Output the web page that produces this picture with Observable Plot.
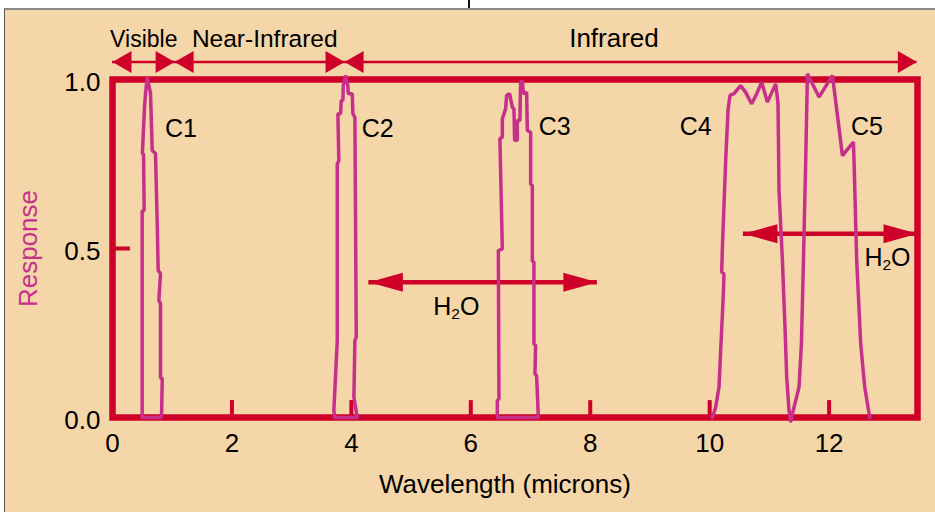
<!DOCTYPE html>
<html>
<head>
<meta charset="utf-8">
<script src="https://cdn.jsdelivr.net/npm/d3@7"></script>
<script src="https://cdn.jsdelivr.net/npm/@observablehq/plot@0.6"></script>
<style>
  html, body { margin: 0; padding: 0; background: #fff; }
  #wrap { position: relative; width: 935px; height: 512px; overflow: hidden; }
  #wrap svg { display: block; }
  #edge { position: absolute; left: 4px; top: 8px; right: 0; bottom: 0;
          border-left: 1px solid #5a5a5a; border-top: 2px solid #8a8a8a;
          box-shadow: 0 0 0 40px #fff; pointer-events: none; }
  #notch { position: absolute; left: 468px; top: 0; width: 2px; height: 8px; background: #111; }
</style>
</head>
<body>
<div id="wrap"></div>
<script>
// ---------- data ----------
const channels = ["C1", "C2", "C3", "C4", "C5"];

const c1 = [[0.497,0],[0.497,0.612],[0.53,0.612],[0.52,0.78],[0.50,0.78],[0.536,0.918],[0.553,0.958],[0.581,1.007],
  [0.637,0.958],[0.665,0.79],[0.72,0.781],[0.749,0.574],[0.765,0.435],[0.804,0.426],[0.776,0.346],[0.804,0.337],
  [0.804,0.118],[0.833,0.115],[0.821,0],[0.497,0]];
const c2 = [[3.719,0],[3.707,0.021],[3.764,0.228],[3.764,0.75],[3.79,0.76],[3.774,0.899],[3.819,0.899],[3.831,0.938],
  [3.858,0.938],[3.864,0.982],[3.903,1.012],[3.941,0.982],[3.948,0.958],[4.015,0.958],[4.025,0.899],[4.059,0.888],
  [4.082,0.238],[4.059,0.228],[4.042,0.06],[4.099,0],[3.719,0]];
const c3 = [[6.444,0],[6.444,0.05],[6.471,0.055],[6.461,0.494],[6.528,0.499],[6.487,0.825],[6.528,0.829],[6.528,0.884],
  [6.583,0.913],[6.6,0.953],[6.65,0.958],[6.695,0.918],[6.722,0.913],[6.734,0.82],[6.779,0.82],[6.779,0.879],
  [6.822,0.879],[6.834,0.992],[6.863,0.997],[6.879,0.958],[6.935,0.962],[6.946,0.849],[7.002,0.844],[7.002,0.691],
  [7.03,0.686],[7.03,0.464],[7.057,0.459],[7.057,0.218],[7.085,0.213],[7.074,0.129],[7.102,0.124],[7.131,0],[6.444,0]];
const c4 = [[10.045,0],[10.1,0.03],[10.156,0.09],[10.184,0.198],[10.229,0.366],[10.239,0.425],[10.201,0.43],[10.213,0.504],
  [10.268,0.76],[10.307,0.908],[10.34,0.953],[10.407,0.958],[10.519,0.982],[10.603,0.962],[10.704,0.928],[10.787,0.958],
  [10.871,0.992],[10.967,0.933],[11.106,0.987],[11.144,0.928],[11.161,0.672],[11.218,0.464],[11.261,0.267],[11.29,0.119],
  [11.328,0.021],[11.357,-0.01]];
const c5 = [[11.357,-0.01],[11.412,0.03],[11.496,0.09],[11.536,0.218],[11.57,0.464],[11.608,0.76],[11.637,1.017],
  [11.831,0.948],[12.056,1.012],[12.223,0.775],[12.407,0.815],[12.417,0.76],[12.462,0.464],[12.529,0.218],
  [12.596,0.09],[12.68,0]];
const curves = [c1, c2, c3, c4, c5];

const channelLabelX = [1.147, 4.44, 7.404, 9.766, 12.635];
const channelLabelY = [0.831, 0.831, 0.837, 0.837, 0.837];

const bandLabels = ["Visible", "Near-Infrared", "Infrared"];
const bandStart  = [0, 1.04, 3.886];
const bandEnd    = [1.04, 3.886, 13.47];
const bandLabelX = [0.524, 2.549, 8.397];
const bandY = 1.052;
const bandLabelY = 1.095;

const h2oStart  = [4.293, 10.565];
const h2oEnd    = [8.119, 13.48];
const h2oY      = [0.4003, 0.5435];
const h2oLabelX = [5.757, 12.977];
const h2oLabelY = [0.302, 0.447];

const xTicks = [0, 2, 4, 6, 8, 10, 12];
const xInnerTicks = [2, 4, 6, 8, 10, 12];
const yTicks = [0, 0.5, 1];
const yInnerTicks = [0.5];

// ---------- styling ----------
const RED = "#CE0029", MAG = "#C6308B", TAN = "#F4D6A9";
const FONT = "'Liberation Sans', Arial, Helvetica, sans-serif";
const bandFontSize = [23, 24.5, 26];

const rows = channels.flatMap((name, i) => curves[i].map(([x, y]) => ({name, x, y})));
const bandIdx = bandLabels.map((_, i) => i);
const h2oIdx = h2oStart.map((_, i) => i);

const rightHead = (len, half) => ({draw(ctx) { ctx.moveTo(0, 0); ctx.lineTo(-len, -half); ctx.lineTo(-len, half); ctx.closePath(); }});
const leftHead  = (len, half) => ({draw(ctx) { ctx.moveTo(0, 0); ctx.lineTo(len, -half); ctx.lineTo(len, half); ctx.closePath(); }});

const chart = Plot.plot({
  width: 935, height: 512,
  marginLeft: 112, marginRight: 18, marginTop: 79, marginBottom: 95,
  style: {background: TAN, fontFamily: FONT, color: "#000", overflow: "visible"},
  x: {domain: [0, 13.48]},
  y: {domain: [0, 1]},
  marks: [
    Plot.frame({stroke: RED, strokeWidth: 6.5}),
    Plot.ruleX(xInnerTicks, {x: d => d, y1: 0, y2: 0.05, stroke: RED, strokeWidth: 4}),
    Plot.ruleY(yInnerTicks, {y: d => d, x1: 0, x2: 0.3, stroke: RED, strokeWidth: 4}),
    Plot.axisX({ticks: xTicks, tickSize: 0, tickPadding: 16, fontSize: 26, label: null}),
    Plot.axisY({ticks: yTicks, tickSize: 0, tickPadding: 12, fontSize: 26, tickFormat: d3.format(".1f"), dy: 3, label: null}),
    // spectral band arrows
    Plot.ruleY(bandIdx, {x1: i => bandStart[i], x2: i => bandEnd[i], y: bandY, stroke: RED, strokeWidth: 2.5}),
    Plot.dot(bandIdx, {x: i => bandStart[i], y: bandY, symbol: leftHead(19, 11), fill: RED, stroke: "none", r: 3}),
    Plot.dot(bandIdx, {x: i => bandEnd[i], y: bandY, symbol: rightHead(19, 11), fill: RED, stroke: "none", r: 3}),
    Plot.text(bandIdx, {x: i => bandLabelX[i], y: bandLabelY, text: i => bandLabels[i], fontSize: i => bandFontSize[i], lineAnchor: "bottom"}),
    // water absorption arrows
    Plot.ruleY(h2oIdx, {x1: i => h2oStart[i], x2: i => h2oEnd[i], y: i => h2oY[i], stroke: RED, strokeWidth: 4.5}),
    Plot.dot(h2oIdx, {x: i => h2oStart[i], y: i => h2oY[i], symbol: leftHead(34, 9.5), fill: RED, stroke: "none", r: 3}),
    Plot.dot(h2oIdx, {x: i => h2oEnd[i], y: i => h2oY[i], symbol: rightHead(34, 9.5), fill: RED, stroke: "none", r: 3}),
    Plot.text(h2oIdx, {x: i => h2oLabelX[i], y: i => h2oLabelY[i], text: () => "H\u2082O", fontSize: 25, lineAnchor: "bottom"}),
    // response curves
    Plot.line(rows, {x: "x", y: "y", z: "name", stroke: MAG, strokeWidth: 3.5, strokeLinejoin: "miter"}),
    Plot.text(channels, {x: (d, i) => channelLabelX[i], y: (d, i) => channelLabelY[i], text: d => d, fontSize: 25, lineAnchor: "bottom"}),
    // axis titles
    Plot.text(["Wavelength (microns)"], {x: 6.57, y: -0.222, text: d => d, fontSize: 26, lineAnchor: "bottom"}),
    Plot.text(["Response"], {x: -1.407, y: 0.5, text: d => d, rotate: -90, fill: MAG, fontSize: 26})
  ]
});

// render the subscript of H2O as a proper lowered, smaller "2"
d3.select(chart).selectAll("text").each(function () {
  if (this.textContent === "H\u2082O") {
    const t = d3.select(this);
    t.text(null);
    t.append("tspan").text("H");
    t.append("tspan").attr("dy", 4).attr("font-size", "0.62em").text("2");
    t.append("tspan").attr("dy", -4).text("O");
  }
});

const wrap = document.getElementById("wrap");
wrap.appendChild(chart);
const edge = document.createElement("div"); edge.id = "edge"; wrap.appendChild(edge);
const notch = document.createElement("div"); notch.id = "notch"; wrap.appendChild(notch);
</script>
</body>
</html>
